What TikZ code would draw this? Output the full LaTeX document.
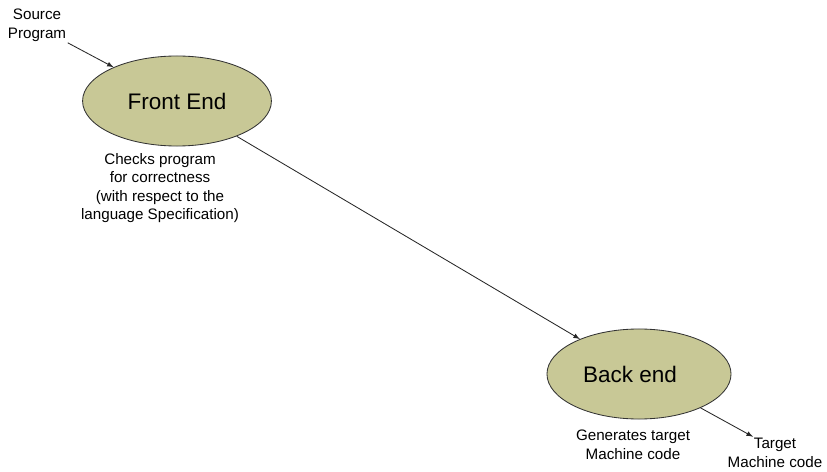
\documentclass[tikz,border=0pt]{standalone}
\usepackage{fontspec}
\setmainfont{Liberation Sans}
\usepackage{tikz}
\usetikzlibrary{arrows,shapes.geometric}
\definecolor{phaseol}{RGB}{200,200,150}
\tikzset{>=latex}

\begin{document}
\begin{tikzpicture}[x=0.025cm, y=-0.025cm]
        \useasboundingbox (0,0) rectangle (827,472);
        % phases are ellipses, notes are plain text under them
        \tikzstyle{phase}=[ellipse, draw=black!80, fill=phaseol, line width=0.6pt, inner sep=0pt, minimum height=2.25cm, font=\fontsize{16}{19}\selectfont]
        \tikzstyle{note}=[align=center, inner sep=1pt, font=\fontsize{10.8}{13.2}\selectfont]
        \tikzstyle{flow}=[->, black!85, line width=0.6pt]

        \node[phase, minimum width=4.72cm] (fe) at (177, 101) {Front End};
        \node[phase, minimum width=4.6cm, label={[font=\fontsize{16}{19}\selectfont, xshift=-0.225cm]center:Back end}] (be) at (639, 374) {};

        \node[note] (src) at (37, 25) {Source\\Program};
        \node[note] (chk) at (160, 188) {Checks program\\for correctness\\(with respect to the\\language Specification)};
        \node[note] (gen) at (633, 445) {Generates target\\Machine code};
        \node[note] (tgt) at (775, 453) {Target\\Machine code};

        \draw[flow] (src.south east) -- (fe);
        \draw[flow] (fe) -- (be);
        \draw[flow] (be) -- ([xshift=-0.55cm]tgt.north);
\end{tikzpicture}
\end{document}
